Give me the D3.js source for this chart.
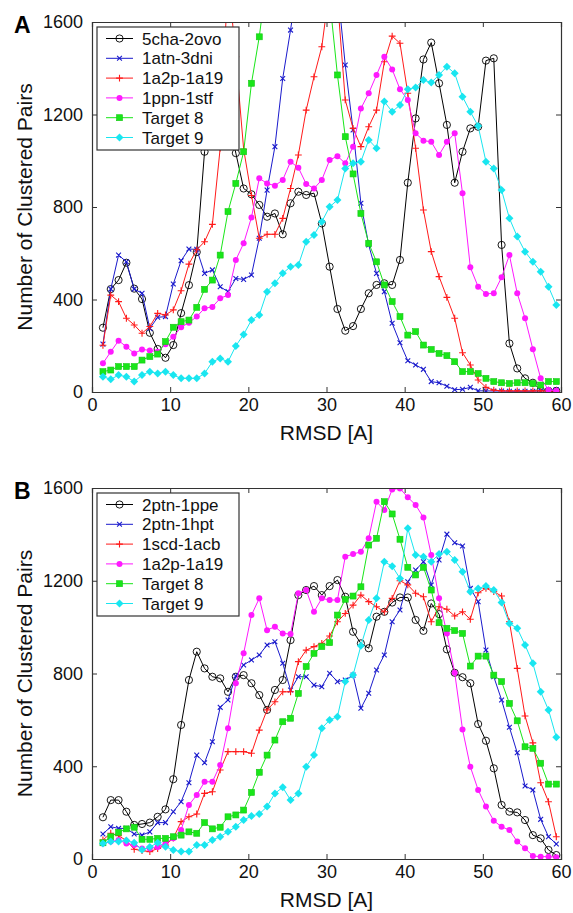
<!DOCTYPE html>
<html>
<head>
<meta charset="utf-8">
<script src="https://cdn.jsdelivr.net/npm/d3@7/dist/d3.min.js"></script>
<style>
  html, body { margin: 0; padding: 0; background: #fff; }
  svg { display: block; font-family: "Liberation Sans", Arial, Helvetica, sans-serif; }
</style>
</head>
<body>
<svg id="chart" width="573" height="913"></svg>
<script>
// ---------- DATA ----------
const rmsd = d3.range(1, 60).map(n => n + 0.4);   // bin centres, RMSD [A]
const xTicks = [0, 10, 20, 30, 40, 50, 60];
const yTicks = [0, 400, 800, 1200, 1600];

// Panel A
const namesA = ["5cha-2ovo", "1atn-3dni", "1a2p-1a19", "1ppn-1stf", "Target 8", "Target 9"];
const a_5cha2ovo = [278,445,484,559,447,402,256,186,148,203,341,462,605,1039,1300,1400,1200,1033,880,855,809,758,772,682,816,866,852,860,729,542,359,265,285,359,427,463,470,463,571,905,1183,1438,1511,1335,1155,905,1039,1140,1147,1433,1443,636,210,102,59,40,9,5,5];
const a_1atn3dni = [207,445,592,563,445,427,275,323,326,467,568,618,617,513,528,455,434,491,487,506,665,873,1061,1356,1565,1800,2000,2100,2000,1900,1750,1414,1133,816,636,513,434,297,213,135,117,98,45,40,25,10,12,20,5,5,4,4,3,3,3,3,5,8,10];
const a_1a2p1a19 = [202,419,391,319,290,254,283,340,333,355,438,553,615,650,725,1055,1800,1450,1050,850,665,682,682,751,880,1025,1219,1363,1493,1750,1700,1263,1140,1061,1147,1219,1428,1539,1508,1292,1054,787,607,499,409,319,170,117,52,20,8,5,5,5,5,5,5,5,5];
const a_1ppn1stf = [124,174,222,196,167,184,180,174,207,239,280,300,326,362,368,405,419,571,643,755,924,902,892,917,996,970,900,880,917,1003,1020,989,1061,1226,1292,1371,1450,1395,1309,1263,1119,1087,1082,1025,1082,1119,859,539,455,424,427,496,592,427,319,185,59,10,5];
const a_target8 = [88,95,110,110,110,138,153,164,218,280,304,311,366,444,484,592,780,902,1039,1335,1536,1800,2000,2100,2200,2200,2100,2000,1900,1700,1371,1104,943,772,643,563,463,391,326,246,261,203,184,167,157,131,88,88,80,59,45,40,37,40,40,37,30,45,45];
const a_target9 = [66,55,73,66,45,73,88,80,88,73,59,59,59,80,131,145,131,199,249,311,333,434,470,513,542,549,650,679,736,801,830,967,989,996,1090,1054,1256,1212,1241,1309,1317,1349,1338,1371,1407,1378,1277,1212,1150,996,967,873,751,672,607,563,520,455,376];

// Panel B
const namesB = ["2ptn-1ppe", "2ptn-1hpt", "1scd-1acb", "1a2p-1a19", "Target 8", "Target 9"];
const b_2ptn1ppe = [180,254,254,204,147,151,157,182,214,344,578,772,894,822,786,779,721,786,793,758,707,643,729,772,944,1138,1160,1177,1138,1177,1203,1131,980,930,909,1045,1066,1106,1128,1128,1031,984,1102,1056,904,803,784,758,582,510,391,233,204,201,168,103,89,39,17];
const b_2ptn1hpt = [108,139,132,132,108,103,117,157,157,204,247,329,448,415,506,654,686,789,837,858,880,923,937,844,729,786,786,750,743,801,765,772,793,650,715,815,880,1023,1074,1196,1246,1282,1182,1290,1401,1364,1350,1167,1110,901,786,686,568,458,315,298,171,96,65];
const b_1scd1acb = [82,111,100,80,42,36,32,45,60,90,161,182,194,283,290,384,463,463,463,456,556,643,678,721,721,851,901,916,930,962,1023,1059,1095,1138,1110,1088,1066,1124,1200,1182,1146,1131,1023,1088,1077,1048,1066,1034,1148,1167,1153,1134,1023,822,617,501,329,247,96];
const b_1a2p1a19 = [67,75,82,67,60,45,45,52,67,89,125,233,276,333,333,405,564,758,887,1052,1124,987,1002,973,970,1146,1160,1066,1124,1117,1117,1304,1315,1325,1383,1541,1505,1594,1598,1560,1527,1473,1311,1124,973,803,559,398,298,226,165,139,125,75,46,13,10,10,8];
const b_target8 = [70,96,115,130,137,85,85,89,89,96,103,117,111,157,130,137,182,190,211,287,374,448,513,592,607,714,830,887,916,933,1052,1120,1134,1174,1354,1383,1541,1488,1379,1258,1225,1258,1160,1019,995,985,973,832,875,875,793,765,671,596,484,477,413,323,323];
const b_target9 = [67,75,75,80,70,40,52,70,53,39,32,32,60,60,82,96,118,139,168,185,194,226,283,309,254,283,398,448,564,599,614,765,793,920,1031,1124,1282,1263,1210,1426,1311,1304,1282,1315,1325,1289,1239,1153,1167,1177,1160,1106,1016,995,923,844,721,643,525];

// ---------- STYLE ----------
const colors = ["#000000", "#1a1acc", "#ff1a1a", "#ff19ff", "#19e619", "#19e6f0"];
const markers = ["circle", "x", "plus", "dot", "square", "diamond"];

const W = 573, H = 913;
const plotLeft = 92, plotRight = 561;
const panels = [
  { label: "A", top: 22, bottom: 392, names: namesA,
    series: [a_5cha2ovo, a_1atn3dni, a_1a2p1a19, a_1ppn1stf, a_target8, a_target9] },
  { label: "B", top: 488, bottom: 859, names: namesB,
    series: [b_2ptn1ppe, b_2ptn1hpt, b_1scd1acb, b_1a2p1a19, b_target8, b_target9] }
];

const svg = d3.select("#chart");
const tickFont = 18, legendFont = 17, titleFont = 21;

function drawMarker(g, type, color) {
  if (type === "circle") {
    g.append("circle").attr("r", 3.6).attr("fill", "none").attr("stroke", color).attr("stroke-width", 0.9);
  } else if (type === "x") {
    const s = 2.4;
    g.append("path").attr("d", `M${-s},${-s}L${s},${s}M${-s},${s}L${s},${-s}`)
      .attr("stroke", color).attr("stroke-width", 1.1).attr("fill", "none");
  } else if (type === "plus") {
    const s = 3.4;
    g.append("path").attr("d", `M${-s},0L${s},0M0,${-s}L0,${s}`)
      .attr("stroke", color).attr("stroke-width", 1.1).attr("fill", "none");
  } else if (type === "dot") {
    g.append("circle").attr("r", 3).attr("fill", color);
  } else if (type === "square") {
    g.append("rect").attr("x", -3).attr("y", -3).attr("width", 6).attr("height", 6)
      .attr("fill", color).attr("stroke", d3.color(color).darker(0.4)).attr("stroke-width", 0.6);
  } else if (type === "diamond") {
    const s = 4;
    g.append("path").attr("d", `M0,${-s}L${s},0L0,${s}L${-s},0Z`).attr("fill", color);
  }
}

panels.forEach((p, pi) => {
  const x = d3.scaleLinear().domain([0, 60]).range([plotLeft, plotRight]);
  const y = d3.scaleLinear().domain([0, 1600]).range([p.bottom, p.top]);
  const clipId = "clip" + pi;

  svg.append("clipPath").attr("id", clipId)
    .append("rect").attr("x", plotLeft).attr("y", p.top)
    .attr("width", plotRight - plotLeft).attr("height", p.bottom - p.top);

  const g = svg.append("g");

  // data
  const dataG = g.append("g").attr("clip-path", `url(#${clipId})`);
  const line = d3.line().x((d, i) => x(rmsd[i])).y(d => y(d));
  p.series.forEach((vals, si) => {
    const sg = dataG.append("g");
    sg.append("path").datum(vals).attr("d", line)
      .attr("fill", "none").attr("stroke", colors[si]).attr("stroke-width", 1);
    vals.forEach((v, i) => {
      const mg = sg.append("g").attr("transform", `translate(${x(rmsd[i])},${y(v)})`);
      drawMarker(mg, markers[si], colors[si]);
    });
  });

  // axes (MATLAB style: inward ticks, full box)
  const tickLen = 5;
  const axisColor = "#333";
  const bottomAxis = d3.axisBottom(x).tickValues(xTicks).tickSize(-tickLen).tickPadding(6).tickFormat(d3.format("d"));
  const topAxis = d3.axisTop(x).tickValues(xTicks).tickSize(-tickLen).tickFormat("");
  const leftAxis = d3.axisLeft(y).tickValues(yTicks).tickSize(-tickLen).tickPadding(9).tickFormat(d3.format("d"));
  const rightAxis = d3.axisRight(y).tickValues(yTicks).tickSize(-tickLen).tickFormat("");

  const styleAxis = sel => {
    sel.selectAll("path").attr("stroke", axisColor).attr("stroke-width", 1.2);
    sel.selectAll("line").attr("stroke", axisColor).attr("stroke-width", 1);
    sel.selectAll("text").attr("font-size", tickFont).attr("fill", "#111")
      .attr("font-family", "'Liberation Sans', Arial, sans-serif");
  };
  g.append("g").attr("transform", `translate(0,${p.bottom})`).call(bottomAxis).call(styleAxis);
  g.append("g").attr("transform", `translate(0,${p.top})`).call(topAxis).call(styleAxis);
  g.append("g").attr("transform", `translate(${plotLeft},0)`).call(leftAxis).call(styleAxis);
  g.append("g").attr("transform", `translate(${plotRight},0)`).call(rightAxis).call(styleAxis);

  // axis titles
  g.append("text").attr("x", (plotLeft + plotRight) / 2).attr("y", p.bottom + 48)
    .attr("text-anchor", "middle").attr("font-size", titleFont).attr("fill", "#111").text("RMSD [A]");
  g.append("text")
    .attr("transform", `translate(32,${(p.top + p.bottom) / 2}) rotate(-90)`)
    .attr("text-anchor", "middle").attr("font-size", titleFont).attr("fill", "#111")
    .text("Number of Clustered Pairs");

  // panel letter
  g.append("text").attr("x", 14).attr("y", p.top + 11).attr("font-size", 23)
    .attr("font-weight", "bold").attr("fill", "#000").text(p.label);

  // legend
  const lx = 97, ly = p.top + 5, lw = 142, lh = 123;
  const leg = g.append("g");
  leg.append("rect").attr("x", lx).attr("y", ly).attr("width", lw).attr("height", lh)
    .attr("fill", "#fff").attr("stroke", "#333").attr("stroke-width", 1.2);
  p.names.forEach((name, si) => {
    const cy = ly + 11.5 + si * 19.8;
    leg.append("line").attr("x1", lx + 9).attr("x2", lx + 36).attr("y1", cy).attr("y2", cy)
      .attr("stroke", colors[si]).attr("stroke-width", 1);
    const mg = leg.append("g").attr("transform", `translate(${lx + 22.5},${cy})`);
    drawMarker(mg, markers[si], colors[si]);
    leg.append("text").attr("x", lx + 45).attr("y", cy + 6).attr("font-size", legendFont)
      .attr("fill", "#111").text(name);
  });
});
</script>
</body>
</html>
